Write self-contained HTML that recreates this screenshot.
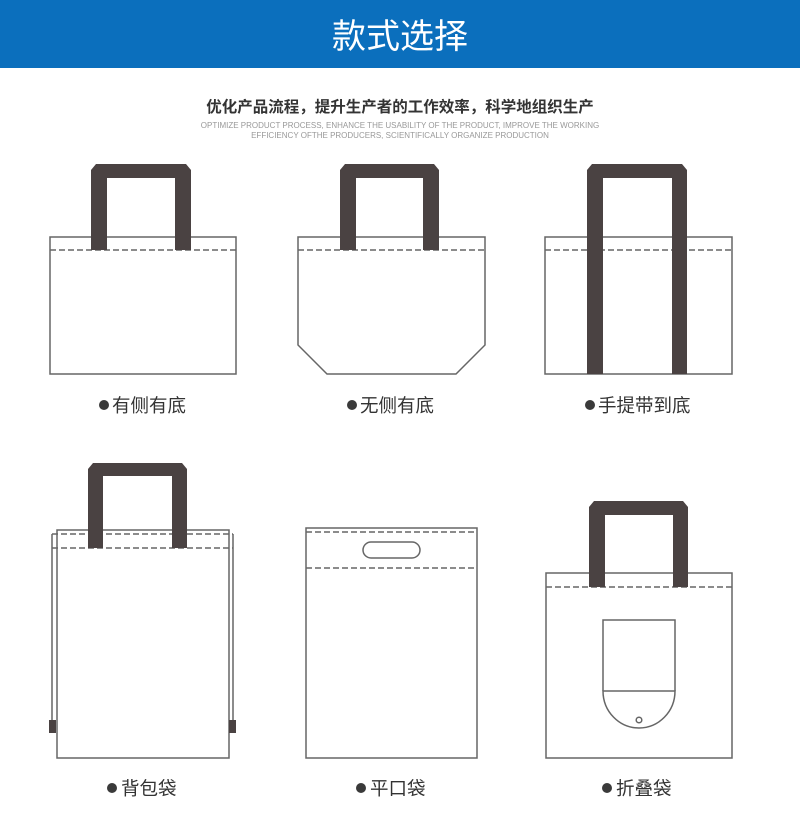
<!DOCTYPE html>
<html><head><meta charset="utf-8"><style>
html,body{margin:0;padding:0;background:#fff;}
body{width:800px;height:814px;overflow:hidden;}
svg{display:block;}
</style></head><body>
<svg width="800" height="814" viewBox="0 0 800 814" xmlns="http://www.w3.org/2000/svg" font-family="'Liberation Sans','Noto Sans CJK SC',sans-serif">
<rect x="0" y="0" width="800" height="68" fill="#0b6fbd"/>
<text x="400" y="48" text-anchor="middle" font-size="34" fill="#fff" font-family="'Liberation Sans','Noto Sans CJK SC',sans-serif">款式选择</text>
<text x="400" y="112" text-anchor="middle" font-size="15.5" font-weight="bold" fill="#333">优化产品流程，提升生产者的工作效率，科学地组织生产</text>
<text x="400" y="128" text-anchor="middle" font-size="8" fill="#999">OPTIMIZE PRODUCT PROCESS, ENHANCE THE USABILITY OF THE PRODUCT, IMPROVE THE WORKING</text>
<text x="400" y="138" text-anchor="middle" font-size="8" fill="#999">EFFICIENCY OFTHE PRODUCERS, SCIENTIFICALLY ORGANIZE PRODUCTION</text>

<g fill="none" stroke="#666" stroke-width="1.5">
<rect x="50" y="237" width="186" height="137"/>
<line x1="50" y1="250" x2="236" y2="250" stroke-dasharray="6,3"/>
<path d="M298 237 H485 V345 L456 374 H327 L298 345 Z"/>
<line x1="298" y1="250" x2="485" y2="250" stroke-dasharray="6,3"/>
<rect x="545" y="237" width="187" height="137"/>
<line x1="545" y1="250" x2="732" y2="250" stroke-dasharray="6,3"/>
<rect x="57" y="530" width="172" height="228"/>
<line x1="52" y1="534" x2="52" y2="722"/>
<line x1="233" y1="534" x2="233" y2="722"/>
<line x1="52" y1="534" x2="233" y2="534" stroke-dasharray="6,3"/>
<line x1="52" y1="548" x2="233" y2="548" stroke-dasharray="6,3"/>
<rect x="306" y="528" width="171" height="230"/>
<line x1="306" y1="532" x2="477" y2="532" stroke-dasharray="6,3"/>
<line x1="306" y1="568" x2="477" y2="568" stroke-dasharray="6,3"/>
<rect x="363" y="542" width="57" height="16" rx="8"/>
<rect x="546" y="573" width="186" height="185"/>
<line x1="546" y1="587" x2="732" y2="587" stroke-dasharray="6,3"/>
<path d="M603 691 V620 H675 V691"/>
<path d="M603 691 H675 A36 37 0 0 1 603 691 Z"/>
<circle cx="639" cy="720" r="2.8"/>
</g>

<g fill="#4a4242">
<path d="M96 164 H186 L191 170 V250 H175 V178 H107 V250 H91 V170 Z"/>
<path d="M345 164 H434 L439 170 V250 H423 V178 H356 V250 H340 V170 Z"/>
<path d="M592 164 H682 L687 170 V374 H672 V178 H603 V374 H587 V170 Z"/>
<path d="M93 463 H182 L187 469 V548 H172 V476 H103 V548 H88 V469 Z"/>
<rect x="49" y="720" width="7" height="13"/>
<rect x="229" y="720" width="7" height="13"/>
<path d="M594 501 H683 L688 507 V587 H673 V515 H605 V587 H589 V507 Z"/>
</g>

<g font-size="18.5" fill="#333">
<circle cx="104" cy="405" r="5" fill="#3a3a3a"/><text x="112" y="412">有侧有底</text>
<circle cx="352" cy="405" r="5" fill="#3a3a3a"/><text x="360" y="412">无侧有底</text>
<circle cx="590" cy="405" r="5" fill="#3a3a3a"/><text x="598" y="412">手提带到底</text>
<circle cx="112" cy="788" r="5" fill="#3a3a3a"/><text x="121" y="795">背包袋</text>
<circle cx="361" cy="788" r="5" fill="#3a3a3a"/><text x="370" y="795">平口袋</text>
<circle cx="607" cy="788" r="5" fill="#3a3a3a"/><text x="616" y="795">折叠袋</text>
</g>
</svg>
</body></html>
